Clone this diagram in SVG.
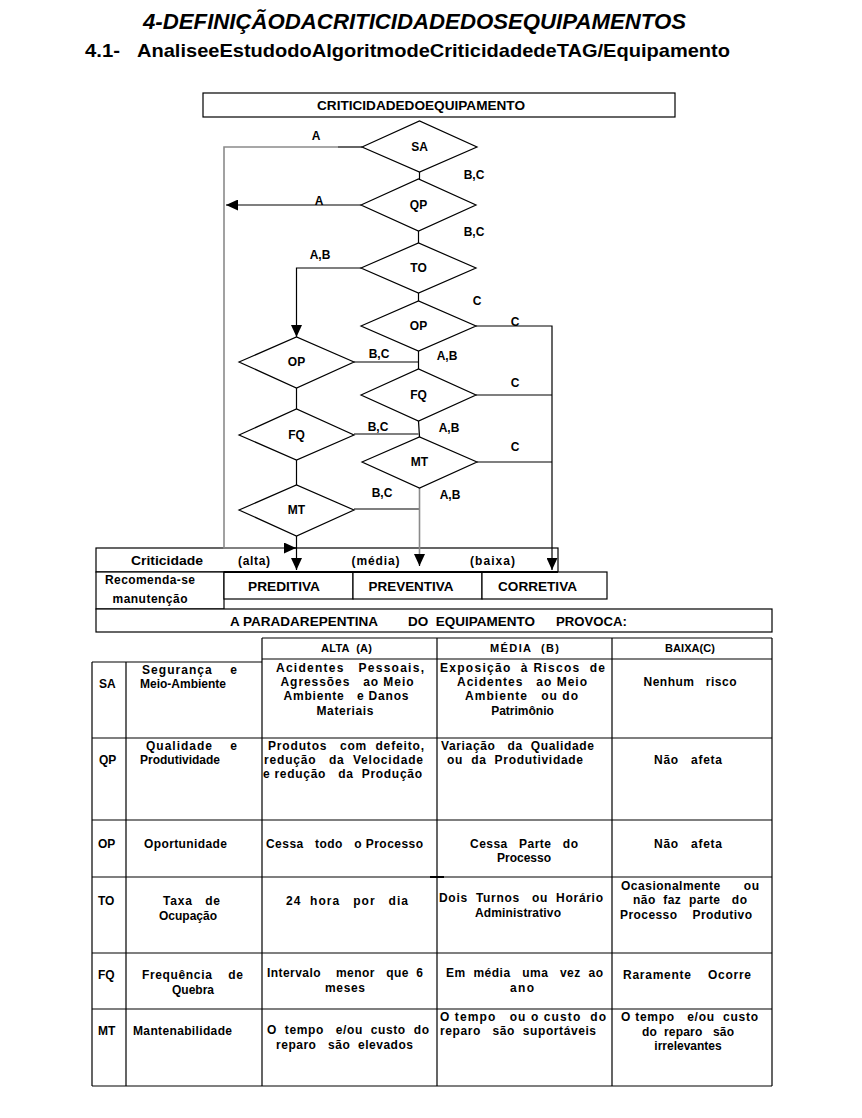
<svg xmlns="http://www.w3.org/2000/svg" width="862" height="1118" viewBox="0 0 862 1118">
<style>
.t{font-family:"Liberation Sans",Arial,sans-serif;font-weight:bold;font-size:12px;fill:#000;white-space:pre}
.m{text-anchor:middle}
.lb{font-size:12px}
.h{font-size:11px}
.bx{fill:#fff;stroke:#000;stroke-width:1.2}
.dm{fill:#fff;stroke:#000;stroke-width:1.2}
.ln{fill:none;stroke:#000;stroke-width:1.2}
.gr{fill:none;stroke:#8a8a8a;stroke-width:1.6}
.tb{fill:none;stroke:#000;stroke-width:1.2}
</style>
<defs>
<marker id="ah" markerUnits="userSpaceOnUse" markerWidth="12" markerHeight="11" refX="12" refY="5.5" orient="auto">
<path d="M0,0 L12,5.5 L0,11 z" fill="#000"/>
</marker>
</defs>
<rect width="862" height="1118" fill="#fff"/>

<g id="title">
<text class="t" x="143" y="29" style="font-size:22px;font-style:italic" textLength="543" lengthAdjust="spacingAndGlyphs">4-DEFINIÇÃODACRITICIDADEDOSEQUIPAMENTOS</text>
<text class="t" x="85" y="57" style="font-size:19px" textLength="35" lengthAdjust="spacingAndGlyphs">4.1-</text>
<text class="t" x="137" y="57" style="font-size:19px" textLength="593" lengthAdjust="spacingAndGlyphs">AnaliseeEstudodoAlgoritmodeCriticidadedeTAG/Equipamento</text>
</g>

<g id="header-box">
<rect class="bx" x="203" y="93" width="472" height="24"/>
<text class="t m" x="421" y="110" style="font-size:12.5px" textLength="208" lengthAdjust="spacingAndGlyphs">CRITICIDADEDOEQUIPAMENTO</text>
</g>

<g id="result-table">
<rect class="bx" x="96" y="548" width="462" height="24"/>
<rect class="bx" x="96" y="572" width="128" height="37"/>
<rect class="bx" x="224" y="572" width="129" height="27"/>
<rect class="bx" x="353" y="572" width="129" height="27"/>
<rect class="bx" x="482" y="572" width="125" height="27"/>
<line x1="224" y1="572" x2="558" y2="572" stroke="#000" stroke-width="2.2"/>
<rect class="bx" x="96" y="609" width="676" height="23"/>
<text class="t m lb" x="167" y="565" textLength="72" lengthAdjust="spacingAndGlyphs">Criticidade</text>
<text class="t m lb" x="254" y="565" textLength="32">(alta)</text>
<text class="t m lb" x="375.5" y="565" textLength="48">(média)</text>
<text class="t m lb" x="492.5" y="565" textLength="45">(baixa)</text>
<text class="t m lb" x="150" y="584" textLength="90">Recomenda-se</text>
<text class="t m lb" x="150" y="603" textLength="75">manutenção</text>
<text class="t m lb" x="284" y="591" textLength="72" lengthAdjust="spacingAndGlyphs">PREDITIVA</text>
<text class="t m lb" x="411" y="591" textLength="85" lengthAdjust="spacingAndGlyphs">PREVENTIVA</text>
<text class="t m lb" x="537.5" y="591" textLength="79" lengthAdjust="spacingAndGlyphs">CORRETIVA</text>
<text class="t lb" x="230" y="626" textLength="148" lengthAdjust="spacingAndGlyphs">A PARADAREPENTINA</text>
<text class="t lb" x="408" y="626" textLength="127" lengthAdjust="spacingAndGlyphs">DO  EQUIPAMENTO</text>
<text class="t lb" x="556" y="626" textLength="71" lengthAdjust="spacingAndGlyphs">PROVOCA:</text>
</g>

<g id="connectors">
<line class="ln" x1="419.5" y1="172" x2="419.5" y2="179"/>
<line class="ln" x1="418.5" y1="231" x2="418.5" y2="243"/>
<line class="ln" x1="418.5" y1="293" x2="418.5" y2="301"/>
<line class="ln" x1="418.5" y1="351" x2="418.5" y2="369"/>
<line class="ln" x1="418.5" y1="421" x2="419.5" y2="437"/>
<line class="ln" x1="296.5" y1="388" x2="296.5" y2="409"/>
<line class="ln" x1="296.5" y1="460" x2="296.5" y2="485"/>
<line class="ln" x1="362" y1="147" x2="338" y2="147"/>
<path class="gr" d="M338,147 H224 V548 H284"/>
<line class="ln" x1="284" y1="548" x2="296" y2="548" marker-end="url(#ah)"/>
<line class="ln" x1="361" y1="205" x2="226" y2="205" marker-end="url(#ah)"/>
<path class="ln" d="M361,268 H296.5 V337" marker-end="url(#ah)"/>
<path class="ln" d="M476,326 H552 V570" marker-end="url(#ah)"/>
<line class="ln" x1="476" y1="395" x2="552" y2="395"/>
<line class="ln" x1="477" y1="462" x2="552" y2="462"/>
<line class="ln" x1="354" y1="362" x2="418.5" y2="362"/>
<line class="ln" x1="354" y1="434" x2="418.5" y2="434"/>
<line class="ln" x1="354" y1="509" x2="419.5" y2="509"/>
<line class="gr" x1="419.5" y1="488" x2="419.5" y2="556"/>
<line class="ln" x1="419.5" y1="554" x2="419.5" y2="566" marker-end="url(#ah)"/>
<line class="ln" x1="296.5" y1="536" x2="296.5" y2="570" marker-end="url(#ah)"/>
<g class="edge-labels">
<text class="t m" x="316" y="140">A</text>
<text class="t m" x="319" y="205">A</text>
<text class="t m" x="474" y="179">B,C</text>
<text class="t m" x="474" y="236">B,C</text>
<text class="t m" x="320" y="259">A,B</text>
<text class="t m" x="477" y="305">C</text>
<text class="t m" x="515" y="326">C</text>
<text class="t m" x="379" y="358">B,C</text>
<text class="t m" x="447" y="360">A,B</text>
<text class="t m" x="515" y="387">C</text>
<text class="t m" x="378" y="431">B,C</text>
<text class="t m" x="449" y="432">A,B</text>
<text class="t m" x="515" y="451">C</text>
<text class="t m" x="382" y="497">B,C</text>
<text class="t m" x="450" y="499">A,B</text>
</g>
</g>

<g id="node-SA"><polygon class="dm" points="362,147 419.5,121 477,147 419.5,172"/><text class="t m" x="419.5" y="151">SA</text></g>
<g id="node-QP"><polygon class="dm" points="361,205 418.5,179 476,205 418.5,231"/><text class="t m" x="418.5" y="209">QP</text></g>
<g id="node-TO"><polygon class="dm" points="361,268 418.5,243 476,268 418.5,293"/><text class="t m" x="418.5" y="272">TO</text></g>
<g id="node-OP-right"><polygon class="dm" points="361,326 418.5,301 476,326 418.5,351"/><text class="t m" x="418.5" y="330">OP</text></g>
<g id="node-FQ-right"><polygon class="dm" points="361,395 418.5,369 476,395 418.5,421"/><text class="t m" x="418.5" y="399">FQ</text></g>
<g id="node-MT-right"><polygon class="dm" points="362,462 419.5,437 477,462 419.5,488"/><text class="t m" x="419.5" y="466">MT</text></g>
<g id="node-OP-left"><polygon class="dm" points="239,362 296.5,337 354,362 296.5,388"/><text class="t m" x="296.5" y="366">OP</text></g>
<g id="node-FQ-left"><polygon class="dm" points="239,435 296.5,409 354,435 296.5,460"/><text class="t m" x="296.5" y="439">FQ</text></g>
<g id="node-MT-left"><polygon class="dm" points="239,510 296.5,485 354,510 296.5,536"/><text class="t m" x="296.5" y="514">MT</text></g>

<g id="impact-table">
<path class="tb" d="M262,638 H772 M262,659 H772 M92,662 H262 M92,738 H772 M92,820 H772 M92,877 H772 M92,953 H772 M92,1009 H772 M92,1086 H772"/>
<path class="tb" d="M92,662 V1086 M126,662 V1086 M262,638 V1086 M437,638 V1086 M612,638 V1086 M772,638 V1086"/>
<line x1="430" y1="877" x2="444" y2="877" stroke="#000" stroke-width="2"/>

<text class="t m h" x="346.5" y="652" textLength="51">ALTA  (A)</text>
<text class="t m h" x="524.5" y="652" textLength="69">MÉDIA  (B)</text>
<text class="t m h" x="690" y="652" textLength="50">BAIXA(C)</text>

<text class="t" x="99" y="688">SA</text>
<text class="t" x="142" y="674" textLength="95">Segurança    e</text>
<text class="t" x="140" y="688">Meio-Ambiente</text>
<text class="t m" x="350" y="672" textLength="148">Acidentes   Pessoais,</text>
<text class="t m" x="347" y="686" textLength="133">Agressões   ao Meio</text>
<text class="t m" x="346" y="700" textLength="125">Ambiente   e Danos</text>
<text class="t m" x="345" y="715" textLength="57">Materiais</text>
<text class="t m" x="522.5" y="672" textLength="165">Exposição  à Riscos  de</text>
<text class="t m" x="522" y="686" textLength="130">Acidentes   ao Meio</text>
<text class="t m" x="521.5" y="700" textLength="113">Ambiente   ou do</text>
<text class="t m" x="522.5" y="715">Patrimônio</text>
<text class="t m" x="690" y="686" textLength="93">Nenhum   risco</text>

<text class="t" x="99" y="764">QP</text>
<text class="t" x="146" y="750" textLength="91">Qualidade    e</text>
<text class="t" x="140" y="764">Produtividade</text>
<text class="t" x="268" y="750" textLength="156">Produtos   com  defeito,</text>
<text class="t" x="264" y="764" textLength="159">redução   da  Velocidade</text>
<text class="t" x="263" y="778" textLength="159">e redução   da  Produção</text>
<text class="t" x="441" y="750" textLength="153">Variação   da  Qualidade</text>
<text class="t" x="447" y="764" textLength="136">ou  da  Produtividade</text>
<text class="t m" x="688" y="764" textLength="68">Não   afeta</text>

<text class="t" x="98" y="848">OP</text>
<text class="t" x="144" y="848" textLength="83">Oportunidade</text>
<text class="t" x="266" y="848" textLength="157">Cessa   todo   o Processo</text>
<text class="t m" x="524" y="848" textLength="108">Cessa   Parte   do</text>
<text class="t m" x="524" y="862">Processo</text>
<text class="t m" x="688" y="848" textLength="68">Não   afeta</text>

<text class="t" x="98" y="905">TO</text>
<text class="t m" x="191.5" y="905" textLength="57">Taxa   de</text>
<text class="t m" x="188" y="920">Ocupação</text>
<text class="t m" x="347" y="905" textLength="122">24  hora   por   dia</text>
<text class="t" x="439" y="902" textLength="164">Dois  Turnos   ou  Horário</text>
<text class="t m" x="518" y="917" textLength="86">Administrativo</text>
<text class="t" x="621" y="890" textLength="138">Ocasionalmente      ou</text>
<text class="t m" x="690" y="904" textLength="114">não  faz  parte   do</text>
<text class="t" x="620" y="919" textLength="132">Processo    Produtivo</text>

<text class="t" x="98" y="979">FQ</text>
<text class="t" x="142" y="979" textLength="101">Frequência    de</text>
<text class="t m" x="193" y="994">Quebra</text>
<text class="t" x="267" y="977" textLength="156">Intervalo    menor   que  6</text>
<text class="t m" x="345" y="992" textLength="40">meses</text>
<text class="t m" x="522" y="992" textLength="24">ano</text>
<text class="t" x="446" y="977" textLength="157">Em  média   uma   vez  ao</text>
<text class="t m" x="687" y="979" textLength="128">Raramente    Ocorre</text>

<text class="t" x="98" y="1035">MT</text>
<text class="t" x="133" y="1035" textLength="99">Mantenabilidade</text>
<text class="t" x="267" y="1034" textLength="162">O  tempo   e/ou  custo  do</text>
<text class="t" x="276" y="1049" textLength="137">reparo   são  elevados</text>
<text class="t" x="440" y="1021" textLength="166">O tempo   ou o custo  do</text>
<text class="t" x="440" y="1035" textLength="156">reparo   são  suportáveis</text>
<text class="t" x="621" y="1021" textLength="137">O tempo   e/ou  custo</text>
<text class="t m" x="688" y="1036" textLength="92">do  reparo   são</text>
<text class="t m" x="688" y="1050">irrelevantes</text>
</g>
</svg>
